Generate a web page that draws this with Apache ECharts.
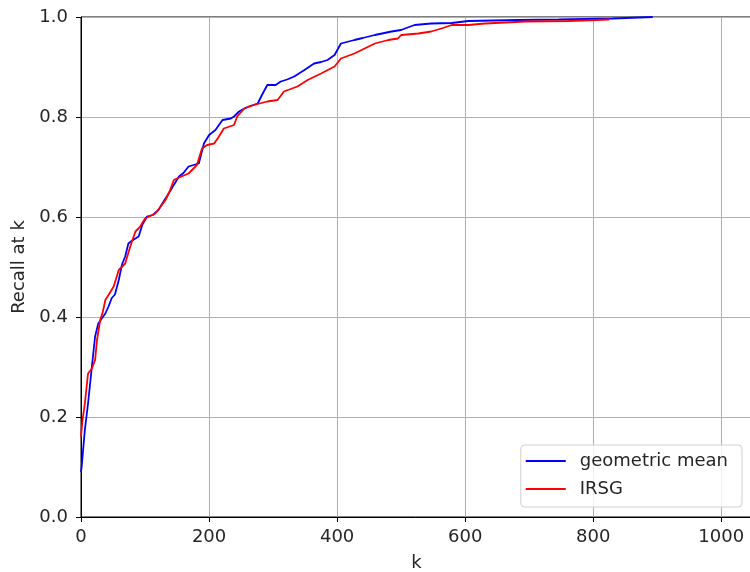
<!DOCTYPE html>
<html>
<head>
<meta charset="utf-8">
<script src="https://cdn.jsdelivr.net/npm/echarts@6/dist/echarts.min.js"></script>
<style>
  html, body { margin: 0; padding: 0; background: #fff; }
  #chart { width: 750px; height: 572px; }
</style>
</head>
<body>
<div id="chart"></div>
<script>
// values
const geoMeanK = [0, 1, 6, 11, 17, 22, 27, 33, 38, 43, 48, 53, 59, 64, 69, 74, 80, 90, 96, 103, 112, 121, 127, 134, 143, 153, 160, 168, 184, 192, 200, 210, 221, 234, 239, 247, 255, 262, 276, 283, 291, 304, 312, 322, 333, 349, 364, 375, 385, 396, 406, 427, 440, 459, 485, 500, 506, 521, 547, 579, 605, 683, 746, 830, 893]
const geoMeanRecall = [0.09, 0.10, 0.174, 0.227, 0.301, 0.361, 0.387, 0.398, 0.407, 0.421, 0.438, 0.445, 0.474, 0.505, 0.521, 0.547, 0.553, 0.561, 0.585, 0.601, 0.604, 0.614, 0.627, 0.641, 0.66, 0.681, 0.688, 0.701, 0.707, 0.747, 0.764, 0.774, 0.794, 0.797, 0.801, 0.811, 0.817, 0.821, 0.827, 0.845, 0.864, 0.864, 0.871, 0.875, 0.881, 0.894, 0.907, 0.91, 0.914, 0.924, 0.947, 0.954, 0.958, 0.964, 0.971, 0.974, 0.977, 0.984, 0.987, 0.988, 0.992, 0.994, 0.995, 0.997, 1.0]

const irsgK = [0, 2, 6, 11, 17, 22, 25, 30, 34, 38, 43, 51, 59, 69, 77, 85, 92, 100, 116, 124, 132, 138, 145, 155, 168, 181, 189, 197, 208, 215, 223, 239, 244, 255, 270, 291, 307, 317, 338, 354, 375, 396, 406, 427, 443, 459, 480, 495, 500, 527, 547, 563, 579, 605, 631, 694, 762, 825]
const irsgRecall = [0.16, 0.19, 0.227, 0.287, 0.297, 0.314, 0.354, 0.394, 0.41, 0.434, 0.444, 0.461, 0.494, 0.507, 0.541, 0.571, 0.58, 0.597, 0.607, 0.62, 0.634, 0.65, 0.674, 0.68, 0.687, 0.704, 0.737, 0.744, 0.747, 0.76, 0.777, 0.784, 0.801, 0.817, 0.824, 0.831, 0.834, 0.851, 0.861, 0.874, 0.887, 0.901, 0.917, 0.927, 0.937, 0.947, 0.954, 0.957, 0.964, 0.967, 0.971, 0.977, 0.984, 0.984, 0.987, 0.991, 0.992, 0.995]

const seriesNames = ['geometric mean', 'IRSG']
const colors = ['#0000ff', '#ff0000']

const font = 'DejaVu Sans'
const fontSize = 18
const textColor = '#262626'

function pairs(xs, ys) {
  return xs.map((x, i) => [x, ys[i]])
}

const chart = echarts.init(document.getElementById('chart'))

chart.setOption({
  animation: false,
  grid: {
    left: 81,
    right: -2,
    top: 17,
    bottom: 55,
    outerBoundsMode: 'none',
    containLabel: false,
    show: true,
    borderColor: '#000',
    borderWidth: 1
  },
  legend: {
    orient: 'vertical',
    right: 8,
    bottom: 65,
    data: seriesNames,
    icon: 'rect',
    itemWidth: 40,
    itemHeight: 2,
    itemGap: 10,
    padding: [7, 14, 9, 5],
    backgroundColor: 'rgba(255,255,255,0.8)',
    borderColor: '#d0d0d0',
    borderWidth: 1,
    borderRadius: 4,
    textStyle: {
      fontFamily: font,
      fontSize: fontSize,
      color: textColor,
      padding: [0, 0, 0, 9]
    }
  },
  xAxis: {
    type: 'value',
    min: 0,
    max: 1048,
    interval: 200,
    name: 'k',
    nameLocation: 'middle',
    nameGap: 37,
    nameTextStyle: { fontFamily: font, fontSize: fontSize, color: textColor },
    axisLine: { onZero: false, lineStyle: { color: '#000' } },
    axisTick: { inside: false, length: 5, lineStyle: { color: '#000' } },
    axisLabel: {
      fontFamily: font,
      fontSize: fontSize,
      color: textColor,
      margin: 11,
      showMaxLabel: false,
      formatter: (v) => String(v)
    },
    splitLine: { show: true, lineStyle: { color: '#b0b0b0', width: 1 } }
  },
  yAxis: {
    type: 'value',
    min: 0,
    max: 1,
    interval: 0.2,
    name: 'Recall at k',
    nameLocation: 'middle',
    nameGap: 53,
    nameTextStyle: { fontFamily: font, fontSize: fontSize, color: textColor },
    axisLine: { show: true, lineStyle: { color: '#000' } },
    axisTick: { show: true, inside: false, length: 5, lineStyle: { color: '#000' } },
    axisLabel: {
      fontFamily: font,
      fontSize: fontSize,
      color: textColor,
      margin: 13,
      formatter: (v) => v.toFixed(1)
    },
    splitLine: { show: true, lineStyle: { color: '#b0b0b0', width: 1 } }
  },
  series: [
    {
      name: seriesNames[0],
      type: 'line',
      data: pairs(geoMeanK, geoMeanRecall),
      showSymbol: false,
      lineStyle: { color: colors[0], width: 1.8 },
      itemStyle: { color: colors[0] }
    },
    {
      name: seriesNames[1],
      type: 'line',
      data: pairs(irsgK, irsgRecall),
      showSymbol: false,
      lineStyle: { color: colors[1], width: 1.8 },
      itemStyle: { color: colors[1] }
    }
  ]
})
</script>
</body>
</html>
